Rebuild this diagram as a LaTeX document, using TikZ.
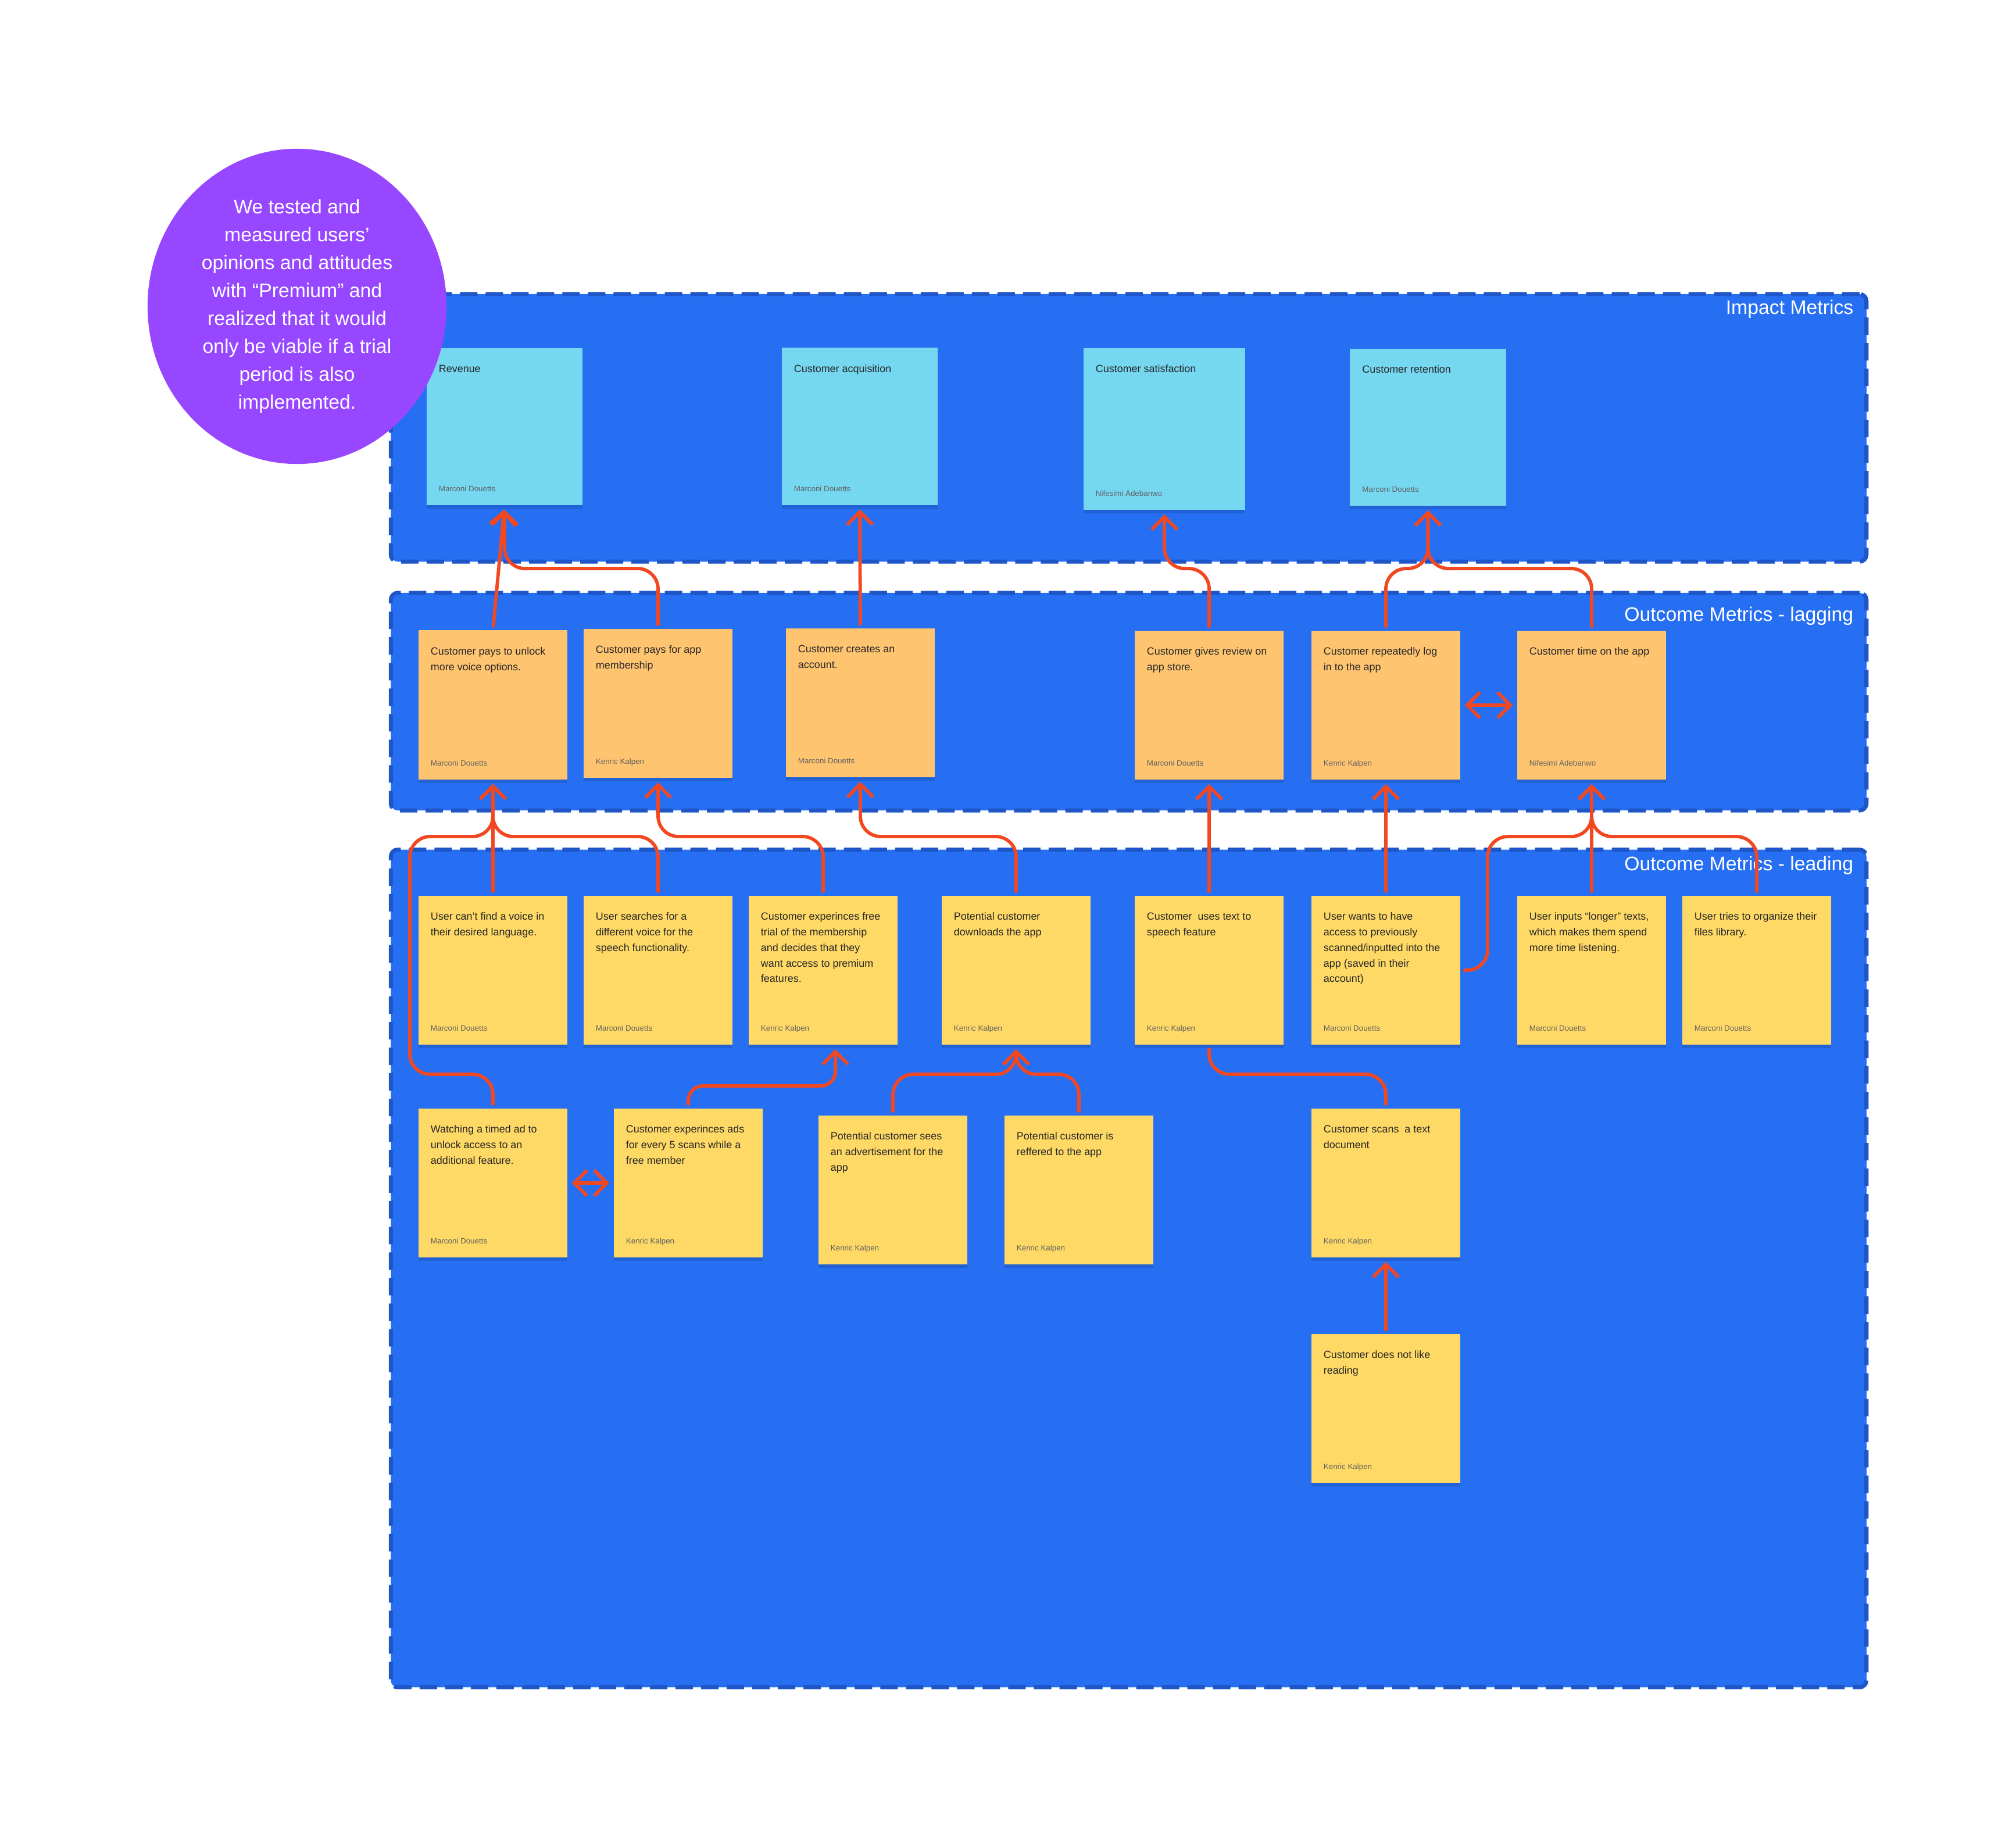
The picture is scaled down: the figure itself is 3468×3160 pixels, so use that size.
\documentclass[tikz,border=0pt]{standalone}
\usepackage{fontspec}
\setmainfont{Liberation Sans}
\usetikzlibrary{arrows.meta,shapes.geometric,shadows}

\definecolor{panelblue}{RGB}{38,111,243}
\definecolor{panelrim}{RGB}{30,86,200}
\definecolor{impactcol}{RGB}{117,215,240}
\definecolor{lagcol}{RGB}{255,196,112}
\definecolor{leadcol}{RGB}{255,217,102}
\definecolor{linecol}{RGB}{242,72,34}
\definecolor{bubblecol}{RGB}{151,71,255}

\begin{document}
\begin{tikzpicture}[x=0.01cm, y=-0.01cm,
  panel/.style={rectangle, draw=panelrim, fill=panelblue, line width=2pt, dash pattern=on 0.3cm off 0.14cm, rounded corners=0.12cm, minimum width=25.37cm, inner sep=0},
  paneltitle/.style={anchor=base east, inner sep=0, text=white, font=\fontsize{9.6}{11}\selectfont},
  note/.style={rectangle, inner sep=0, minimum width=2.56cm, minimum height=2.56cm, drop shadow={shadow xshift=0cm, shadow yshift=-0.06cm, opacity=0.12, fill=black}},
  impactnote/.style={note, fill=impactcol, minimum width=2.68cm, minimum height=2.70cm},
  lagnote/.style={note, fill=lagcol},
  leadnote/.style={note, fill=leadcol},
  notetext/.style={anchor=north west, xshift=0.21cm, yshift=-0.29cm, inner sep=0, align=left, text=black!85, font=\fontsize{5.1}{7.6}\selectfont},
  author/.style={anchor=base west, xshift=0.21cm, yshift=0.24cm, inner sep=0, text=black!62, font=\fontsize{3.8}{4.6}\selectfont},
  bubble/.style={ellipse, fill=bubblecol, minimum width=5.14cm, minimum height=5.42cm, inner sep=0, text=white, align=center, font=\fontsize{9.6}{13.66}\selectfont},
  conn/.style={draw=linecol, line width=1.65pt, line cap=round, line join=round, rounded corners=0.35cm, shorten <=0.07cm, shorten >=0.07cm},
  arr/.style={conn, -{Straight Barb[length=0.22cm, width=0.44cm]}},
  dbl/.style={conn, {Straight Barb[length=0.22cm, width=0.44cm]}-{Straight Barb[length=0.22cm, width=0.44cm]}}
]
  \useasboundingbox (0,0) rectangle (3468,3160);

  \node[panel, minimum height=4.60cm] (impact) at (1941.5,736) {};
  \node[panel, minimum height=3.74cm] (lagging) at (1941.5,1207) {};
  \node[panel, minimum height=14.40cm] (leading) at (1941.5,2182) {};
  \node[paneltitle] (impacttitle) at (3189,540) {Impact Metrics};
  \node[paneltitle] (laggingtitle) at (3189,1068) {Outcome Metrics - lagging};
  \node[paneltitle] (leadingtitle) at (3189,1497) {Outcome Metrics - leading};

  \coordinate (gapA) at (0,978);
  \coordinate (gapB) at (0,1439);
  \coordinate (gapC) at (0,1868);
  \coordinate (gapD) at (0,1848);
  \coordinate (leftrun) at (705,0);
  \coordinate (rightrun) at (2559,0);

  \node[impactnote, label={[notetext]north west:Revenue}, label={[author]south west:Marconi Douetts}] (rev) at (868,734) {};
  \node[impactnote, label={[notetext]north west:Customer acquisition}, label={[author]south west:Marconi Douetts}] (acq) at (1479,733.5) {};
  \node[impactnote, minimum width=2.78cm, minimum height=2.78cm, label={[notetext]north west:Customer satisfaction}, label={[author]south west:Nifesimi Adebanwo}] (sat) at (2003,738) {};
  \node[impactnote, label={[notetext]north west:Customer retention}, label={[author]south west:Marconi Douetts}] (ret) at (2456.5,735) {};

  \node[lagnote, label={[notetext]north west:{Customer pays to unlock\\more voice options.}}, label={[author]south west:Marconi Douetts}] (unlock) at (848,1212.5) {};
  \node[lagnote, label={[notetext]north west:{Customer pays for app\\membership}}, label={[author]south west:Kenric Kalpen}] (membership) at (1132,1210) {};
  \node[lagnote, label={[notetext]north west:{Customer creates an\\account.}}, label={[author]south west:Marconi Douetts}] (account) at (1480,1209) {};
  \node[lagnote, label={[notetext]north west:{Customer gives review on\\app store.}}, label={[author]south west:Marconi Douetts}] (review) at (2080,1213) {};
  \node[lagnote, label={[notetext]north west:{Customer repeatedly log\\in to the app}}, label={[author]south west:Kenric Kalpen}] (login) at (2384,1213) {};
  \node[lagnote, label={[notetext]north west:{Customer time on the app}}, label={[author]south west:Nifesimi Adebanwo}] (timeapp) at (2738,1213) {};

  \node[leadnote, label={[notetext]north west:{User can’t find a voice in\\their desired language.}}, label={[author]south west:Marconi Douetts}] (voice) at (848,1669) {};
  \node[leadnote, label={[notetext]north west:{User searches for a\\different voice for the\\speech functionality.}}, label={[author]south west:Marconi Douetts}] (search) at (1132,1669) {};
  \node[leadnote, label={[notetext]north west:{Customer experinces free\\trial of the membership\\and decides that they\\want access to premium\\features.}}, label={[author]south west:Kenric Kalpen}] (trial) at (1416,1669) {};
  \node[leadnote, label={[notetext]north west:{Potential customer\\downloads the app}}, label={[author]south west:Kenric Kalpen}] (download) at (1748,1669) {};
  \node[leadnote, label={[notetext]north west:{Customer\ \ uses text to\\speech feature}}, label={[author]south west:Kenric Kalpen}] (tts) at (2080,1669) {};
  \node[leadnote, label={[notetext]north west:{User wants to have\\access to previously\\scanned/inputted into the\\app (saved in their\\account)}}, label={[author]south west:Marconi Douetts}] (access) at (2384,1669) {};
  \node[leadnote, label={[notetext]north west:{User inputs “longer” texts,\\which makes them spend\\more time listening.}}, label={[author]south west:Marconi Douetts}] (longer) at (2738,1669) {};
  \node[leadnote, label={[notetext]north west:{User tries to organize their\\files library.}}, label={[author]south west:Marconi Douetts}] (organize) at (3022,1669) {};

  \node[leadnote, label={[notetext]north west:{Watching a timed ad to\\unlock access to an\\additional feature.}}, label={[author]south west:Marconi Douetts}] (timedad) at (848,2035) {};
  \node[leadnote, label={[notetext]north west:{Customer experinces ads\\for every 5 scans while a\\free member}}, label={[author]south west:Kenric Kalpen}] (adsscan) at (1184,2035) {};
  \node[leadnote, label={[notetext]north west:{Potential customer sees\\an advertisement for the\\app}}, label={[author]south west:Kenric Kalpen}] (seead) at (1536,2047) {};
  \node[leadnote, label={[notetext]north west:{Potential customer is\\reffered to the app}}, label={[author]south west:Kenric Kalpen}] (referred) at (1856,2047) {};
  \node[leadnote, label={[notetext]north west:{Customer scans\ \ a text\\document}}, label={[author]south west:Kenric Kalpen}] (scan) at (2384,2035) {};
  \node[leadnote, label={[notetext]north west:{Customer does not like\\reading}}, label={[author]south west:Kenric Kalpen}] (reading) at (2384,2423) {};
  \coordinate (trialin) at ([xshift=0.21cm]trial.south);

  \draw[arr] (unlock.north) -- (rev.south);
  \draw[arr] (membership.north) |- (rev.south |- gapA) -- (rev.south);
  \draw[arr] (account.north) -- (acq.south);
  \draw[arr] (review.north) |- (sat.south |- gapA) -- (sat.south);
  \draw[arr] (login.north) |- (ret.south |- gapA) -- (ret.south);
  \draw[arr] (timeapp.north) |- (ret.south |- gapA) -- (ret.south);
  \draw[dbl] (login) -- (timeapp);

  \draw[arr] (voice.north) -- (unlock.south);
  \draw[arr] (search.north) |- (unlock.south |- gapB) -- (unlock.south);
  \draw[arr] (timedad.north) |- (leftrun |- gapD) |- (unlock.south |- gapB) -- (unlock.south);
  \draw[arr] (trial.north) |- (membership.south |- gapB) -- (membership.south);
  \draw[arr] (download.north) |- (account.south |- gapB) -- (account.south);
  \draw[arr] (tts.north) -- (review.south);
  \draw[arr] (access.north) -- (login.south);
  \draw[arr] (access.east) -| (rightrun |- gapB) -| (timeapp.south);
  \draw[arr] (longer.north) -- (timeapp.south);
  \draw[arr] (organize.north) |- (timeapp.south |- gapB) -- (timeapp.south);

  \draw[arr, rounded corners=0.25cm] (adsscan.north) |- (trialin |- gapC) -- (trialin);
  \draw[dbl] (timedad) -- (adsscan);
  \draw[arr] (seead.north) |- (download.south |- gapD) -- (download.south);
  \draw[arr] (referred.north) |- (download.south |- gapD) -- (download.south);
  \draw[conn] (tts.south) |- (scan.north |- gapD) -- (scan.north);
  \draw[arr] (reading.north) -- (scan.south);

  \node[bubble] (remark) at (511,527) {We tested and\\measured users’\\opinions and attitudes\\with “Premium” and\\realized that it would\\only be viable if a trial\\period is also\\implemented.};
\end{tikzpicture}
\end{document}
